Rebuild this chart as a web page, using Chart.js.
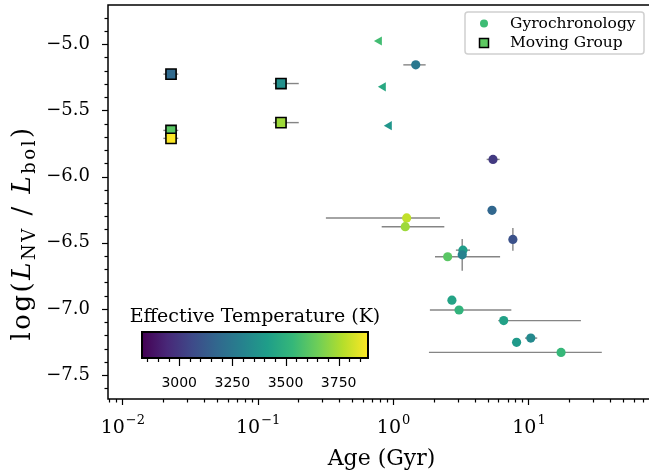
<!DOCTYPE html>
<html>
<head>
<meta charset="utf-8">
<script src="https://cdn.jsdelivr.net/npm/chart.js@4/dist/chart.umd.min.js"></script>
<style>
  body { margin: 0; background: #fff; overflow: hidden; }
  canvas { display: block; }
</style>
</head>
<body>
<canvas id="chart" width="660" height="471"></canvas>
<script>
// Gyrochronology ages (Gyr), log(L_NV/L_bol), Teff (K) and age error range
const gyroAge    = [1.47, 5.47, 5.38, 1.26, 1.23, 7.67, 3.28, 3.24, 2.53, 2.72, 3.07, 6.56, 10.4, 8.17, 17.4];
const gyroLum    = [-5.157, -5.871, -6.255, -6.313, -6.379, -6.475, -6.556, -6.591, -6.606, -6.934, -7.008, -7.088, -7.220, -7.252, -7.328];
const gyroTeff   = [3250, 3005, 3175, 3790, 3730, 3090, 3410, 3295, 3610, 3440, 3515, 3430, 3325, 3400, 3535];
const gyroAgeLo  = [1.19, 4.91, 5.38, 0.319, 0.824, 7.67, 2.91, 3.10, 2.04, 2.62, 1.87, 5.98, 9.42, 8.17, 1.84];
const gyroAgeHi  = [1.74, 6.12, 5.38, 2.22, 2.39, 7.67, 3.70, 3.40, 6.17, 2.82, 7.47, 24.4, 11.6, 8.17, 34.8];
const gyroLumErr = [0, 0, 0, 0, 0, 0.086, 0, 0.12, 0, 0, 0, 0, 0.03, 0, 0];

// age upper limits (triangles)
const limAge  = [0.79, 0.845, 0.935];
const limLum  = [-4.977, -5.323, -5.616];
const limTeff = [3560, 3465, 3380];

// moving group members
const mgAge   = [0.0229, 0.0229, 0.0229, 0.1486, 0.1486];
const mgLum   = [-5.227, -5.652, -5.712, -5.298, -5.593];
const mgTeff  = [3190, 3610, 3885, 3355, 3730];
const mgAgeLo = [0.0201, 0.0201, 0.0201, 0.130, 0.130];
const mgAgeHi = [0.0259, 0.0259, 0.0259, 0.201, 0.201];

// axes / colorbar
const xTicks = [0.01, 0.1, 1, 10];
const yTicks = [-7.5, -7.0, -6.5, -6.0, -5.5, -5.0];
const cbTicks = [3000, 3250, 3500, 3750];
const cbMin = 2825, cbMax = 3888;

const SERIF = '"DejaVu Serif", serif';
const VIRIDIS = ['#440154', '#482878', '#3e4a89', '#31688e', '#26828e',
                 '#1f9e89', '#35b779', '#6ece58', '#b5de2b', '#fde725'];

function hexRgb(h) {
    return [parseInt(h.slice(1, 3), 16), parseInt(h.slice(3, 5), 16), parseInt(h.slice(5, 7), 16)];
}
function viridis(f) {
    f = Math.max(0, Math.min(1, f));
    const p = f * (VIRIDIS.length - 1);
    const i = Math.min(Math.floor(p), VIRIDIS.length - 2);
    const t = p - i;
    const a = hexRgb(VIRIDIS[i]), b = hexRgb(VIRIDIS[i + 1]);
    const c = a.map((v, k) => Math.round(v + (b[k] - v) * t));
    return 'rgb(' + c.join(',') + ')';
}
function teffColor(t) { return viridis((t - cbMin) / (cbMax - cbMin)); }

function points(xs, ys) { return xs.map((x, i) => ({ x: x, y: ys[i] })); }

// error bars, drawn under the markers
const errorBars = {
    id: 'errorBars',
    beforeDatasetsDraw(chart) {
        const { ctx, scales: { x, y } } = chart;
        ctx.save();
        ctx.strokeStyle = 'rgba(120,120,120,0.9)';
        ctx.lineWidth = 1.4;
        chart.data.datasets.forEach(ds => {
            if (!ds.err) return;
            ds.data.forEach((p, i) => {
                const px = x.getPixelForValue(p.x), py = y.getPixelForValue(p.y);
                const lo = ds.err.lo[i], hi = ds.err.hi[i];
                if (lo !== hi) {
                    ctx.beginPath();
                    ctx.moveTo(x.getPixelForValue(lo), py);
                    ctx.lineTo(x.getPixelForValue(hi), py);
                    ctx.stroke();
                }
                const e = ds.err.y ? ds.err.y[i] : 0;
                if (e) {
                    ctx.beginPath();
                    ctx.moveTo(px, y.getPixelForValue(p.y - e));
                    ctx.lineTo(px, y.getPixelForValue(p.y + e));
                    ctx.stroke();
                }
            });
        });
        ctx.restore();
    }
};

function minusSign(n) {
    return String(n).replace('-', '\u2212');
}

// spines, ticks, labels, legend and colorbar
const frame = {
    id: 'frame',
    afterDraw(chart) {
        const { ctx, chartArea: a, scales: { x, y } } = chart;
        ctx.save();
        ctx.strokeStyle = '#000';
        ctx.fillStyle = '#000';

        // y ticks
        ctx.lineWidth = 1.2;
        for (let v = -7.6; v <= -4.75; v += 0.1) {
            const major = yTicks.some(t => Math.abs(t - v) < 1e-6);
            const py = Math.round(y.getPixelForValue(v)) + 0.5;
            ctx.beginPath();
            ctx.moveTo(a.left, py);
            ctx.lineTo(a.left - (major ? 6 : 3.5), py);
            ctx.stroke();
        }
        // x ticks
        for (let n = -3; n <= 1; n++) {
            for (let k = 1; k <= 9; k++) {
                const v = k * Math.pow(10, n);
                if (v < x.min || v > x.max) continue;
                const px = Math.round(x.getPixelForValue(v)) + 0.5;
                ctx.beginPath();
                ctx.moveTo(px, a.bottom);
                ctx.lineTo(px, a.bottom + (k === 1 ? 6 : 3.5));
                ctx.stroke();
            }
        }
        // x tick labels 10^n
        ctx.textBaseline = 'alphabetic';
        xTicks.forEach(v => {
            const px = x.getPixelForValue(v);
            const base = '10', ex = minusSign(Math.round(Math.log10(v)));
            ctx.font = '19px ' + SERIF;
            const wb = ctx.measureText(base).width;
            ctx.font = '13px ' + SERIF;
            const we = ctx.measureText(ex).width;
            const x0 = px - (wb + we) / 2;
            ctx.font = '19px ' + SERIF;
            ctx.textAlign = 'left';
            ctx.fillText(base, x0, 433);
            ctx.font = '13px ' + SERIF;
            ctx.fillText(ex, x0 + wb + 1, 424);
        });

        // spines
        ctx.lineWidth = 1.5;
        ctx.strokeRect(a.left, a.top, a.right - a.left, a.bottom - a.top);

        // x title
        ctx.font = '22px ' + SERIF;
        ctx.textAlign = 'center';
        ctx.fillText('Age (Gyr)', (a.left + a.right) / 2, 465);

        // y title with subscripts
        ctx.save();
        ctx.translate(23, 233);
        ctx.rotate(-Math.PI / 2);
        ctx.letterSpacing = '2.5px';
        const parts = [
            { t: 'log(', f: '26px ' + SERIF, dy: 0 },
            { t: 'L', f: 'italic 26px ' + SERIF, dy: 0 },
            { t: 'NV', f: '18px ' + SERIF, dy: 5 },
            { t: ' / ', f: '26px ' + SERIF, dy: 0 },
            { t: 'L', f: 'italic 26px ' + SERIF, dy: 0 },
            { t: 'bol', f: '18px ' + SERIF, dy: 5 },
            { t: ')', f: '26px ' + SERIF, dy: 0 }
        ];
        let total = 0;
        parts.forEach(p => { ctx.font = p.f; p.w = ctx.measureText(p.t).width; total += p.w; });
        let cx = -total / 2;
        ctx.textAlign = 'left';
        parts.forEach(p => { ctx.font = p.f; ctx.fillText(p.t, cx, 7 + p.dy); cx += p.w; });
        ctx.restore();

        // legend
        const lx = 465, ly = 12, lw = 179, lh = 42;
        ctx.beginPath();
        ctx.roundRect(lx, ly, lw, lh, 3);
        ctx.fillStyle = 'rgba(255,255,255,0.85)';
        ctx.fill();
        ctx.strokeStyle = '#d0d0d0';
        ctx.lineWidth = 1.5;
        ctx.stroke();
        ctx.fillStyle = '#3dbc74';
        ctx.beginPath();
        ctx.arc(484, 23.5, 4, 0, Math.PI * 2);
        ctx.fill();
        ctx.fillStyle = '#5ec962';
        ctx.fillRect(479.5, 38.5, 9, 9);
        ctx.strokeStyle = '#000';
        ctx.lineWidth = 1.5;
        ctx.strokeRect(479.5, 38.5, 9, 9);
        ctx.fillStyle = '#000';
        ctx.font = '15.5px ' + SERIF;
        ctx.textAlign = 'left';
        ctx.textBaseline = 'middle';
        ctx.fillText('Gyrochronology', 510, 23.5);
        ctx.fillText('Moving Group', 510, 43);

        // colorbar
        const bx = 142, by = 332, bw = 226, bh = 26;
        const grad = ctx.createLinearGradient(bx, 0, bx + bw, 0);
        VIRIDIS.forEach((c, i) => grad.addColorStop(i / (VIRIDIS.length - 1), c));
        ctx.fillStyle = grad;
        ctx.fillRect(bx, by, bw, bh);
        ctx.strokeStyle = '#000';
        ctx.lineWidth = 2;
        ctx.strokeRect(bx, by, bw, bh);
        const tx = t => bx + (t - cbMin) / (cbMax - cbMin) * bw;
        ctx.lineWidth = 1.2;
        for (let t = 2850; t <= cbMax; t += 50) {
            const major = cbTicks.includes(t);
            const px = Math.round(tx(t)) + 0.5;
            ctx.beginPath();
            ctx.moveTo(px, by + bh);
            ctx.lineTo(px, by + bh + (major ? 8 : 4));
            ctx.stroke();
        }
        ctx.fillStyle = '#000';
        ctx.font = '14px "DejaVu Sans", sans-serif';
        ctx.textAlign = 'center';
        ctx.textBaseline = 'middle';
        cbTicks.forEach(t => ctx.fillText(String(t), tx(t), 383));
        ctx.font = '19px ' + SERIF;
        ctx.fillText('Effective Temperature (K)', bx + bw / 2, 317);

        ctx.restore();
    }
};

const ctx = document.getElementById('chart').getContext('2d');
new Chart(ctx, {
    type: 'scatter',
    data: {
        datasets: [
            {
                label: 'Gyrochronology',
                data: points(gyroAge, gyroLum),
                pointStyle: 'circle',
                pointRadius: 4.6,
                backgroundColor: gyroTeff.map(teffColor),
                borderWidth: 0,
                err: { lo: gyroAgeLo, hi: gyroAgeHi, y: gyroLumErr }
            },
            {
                label: 'Upper limit',
                data: points(limAge, limLum),
                pointStyle: 'triangle',
                pointRotation: -90,
                pointRadius: 5.3,
                backgroundColor: limTeff.map(teffColor),
                borderWidth: 0
            },
            {
                label: 'Moving Group',
                data: points(mgAge, mgLum),
                pointStyle: 'rect',
                pointRadius: 7.2,
                backgroundColor: mgTeff.map(teffColor),
                borderColor: '#000',
                borderWidth: 1.6,
                err: { lo: mgAgeLo, hi: mgAgeHi }
            }
        ]
    },
    options: {
        responsive: false,
        animation: false,
        layout: { autoPadding: false, padding: { top: 5, right: 5, left: 0, bottom: 0 } },
        plugins: { legend: { display: false }, tooltip: { enabled: false } },
        scales: {
            x: {
                type: 'logarithmic',
                min: 0.00784,
                max: 86,
                grid: { display: false, drawTicks: false },
                border: { display: false },
                ticks: { display: false },
                afterFit: s => { s.height = 72; s.paddingLeft = 0; s.paddingRight = 0; }
            },
            y: {
                min: -7.68,
                max: -4.705,
                grid: { display: false, drawTicks: false },
                border: { display: false },
                afterBuildTicks: s => { s.ticks = yTicks.map(v => ({ value: v })); },
                afterFit: s => { s.width = 108; s.paddingTop = 0; s.paddingBottom = 0; },
                ticks: {
                    color: '#000',
                    padding: 18,
                    font: { family: 'DejaVu Serif', size: 18 },
                    callback: v => minusSign(v.toFixed(1))
                }
            }
        }
    },
    plugins: [errorBars, frame]
});
</script>
</body>
</html>
